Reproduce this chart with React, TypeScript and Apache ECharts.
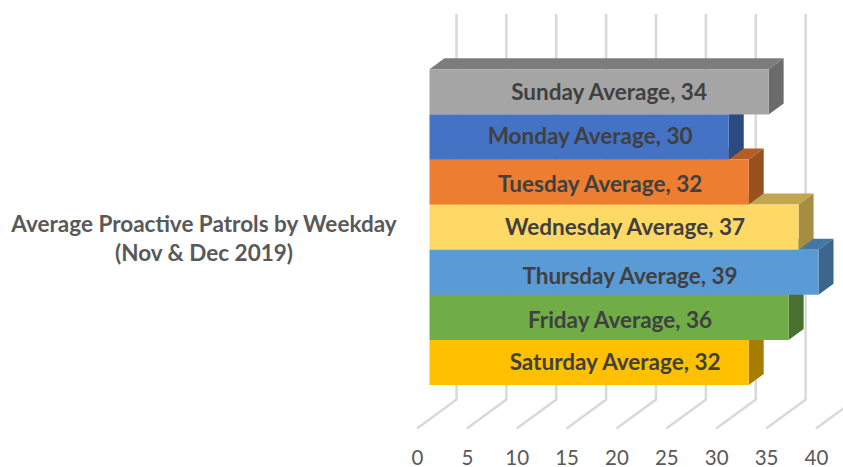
import React, { useEffect, useRef } from "react";
import * as echarts from "echarts";

const days = ["Sunday", "Monday", "Tuesday", "Wednesday", "Thursday", "Friday", "Saturday"];
const averages = [34, 30, 32, 37, 39, 36, 32];
const ticks = [0, 5, 10, 15, 20, 25, 30, 35, 40];
const frontColors = ["#A5A5A5", "#4472C4", "#ED7D31", "#FFD966", "#5B9BD5", "#70AD47", "#FFC000"];
const topColors = ["#7C7C7C", "#335593", "#B25E25", "#C2A64F", "#4477A6", "#548235", "#BF9000"];
const sideColors = ["#6B6B6B", "#2A4A80", "#9A5120", "#A58E42", "#3B658C", "#4A7030", "#A67D00"];
const labelShiftX = [10, 11, 11, 11, 6, 11, 26];
const labelShiftY = [0, -1, 1, -1, 3, 2, -1];
const titleText = "Average Proactive Patrols by Weekday\n(Nov & Dec 2019)";

const FONT = "Lato, sans-serif";
const BAR_SHIFT = 12;
const DEPTH_X = 15;
const DEPTH_Y = 11;

export default function App() {
  const ref = useRef<HTMLDivElement>(null);
  useEffect(() => {
    const chart = echarts.init(ref.current!, null, { renderer: "svg" });
    chart.setOption({
      animation: false,
      backgroundColor: "#FFFFFF",
      title: {
        text: titleText,
        left: 199,
        top: 204,
        textAlign: "center",
        textStyle: { fontFamily: FONT, fontSize: 22.5, fontWeight: "bold", color: "#595959", lineHeight: 29 },
      },
      grid: { left: 417.5, top: 69.3, width: 399, height: 315.7, containLabel: false },
      xAxis: {
        type: "value",
        min: 0,
        max: 40,
        interval: 5,
        axisLine: { show: false },
        axisTick: { show: false },
        splitLine: { show: false },
        axisLabel: { margin: 61, fontFamily: FONT, fontSize: 20.5, color: "#595959", showMaxLabel: true },
      },
      yAxis: {
        type: "category",
        inverse: true,
        data: days,
        show: false,
      },
      series: [
        {
          type: "custom",
          z: 1,
          silent: true,
          data: ticks.map((t) => [t, 0]),
          encode: { x: 0, y: 1 },
          renderItem: (params: any, api: any) => {
            const x = api.coord([api.value(0), 0])[0];
            const bottom = params.coordSys.y + params.coordSys.height;
            return {
              type: "polyline",
              shape: {
                points: [
                  [x - 0.5, bottom + 43.5],
                  [x + 39, bottom + 14.5],
                  [x + 39, bottom - 371],
                ],
              },
              style: { stroke: "#D9D9D9", lineWidth: 2.5, fill: null },
            };
          },
        },
        {
          type: "custom",
          z: 2,
          silent: true,
          data: averages.map((v, i) => [v, i]).reverse(),
          encode: { x: 0, y: 1 },
          renderItem: (_params: any, api: any) => {
            const idx = api.value(1);
            const [xEnd, yMid] = api.coord([api.value(0), idx]);
            const x0 = api.coord([0, idx])[0] + BAR_SHIFT;
            const x1 = xEnd + BAR_SHIFT;
            const band = api.size([0, 1])[1];
            const y0 = yMid - band / 2;
            const y1 = yMid + band / 2;
            return {
              type: "group",
              children: [
                {
                  type: "polygon",
                  shape: { points: [[x0, y0], [x0 + DEPTH_X, y0 - DEPTH_Y], [x1 + DEPTH_X, y0 - DEPTH_Y], [x1, y0]] },
                  style: { fill: topColors[idx] },
                },
                {
                  type: "polygon",
                  shape: { points: [[x1, y0], [x1 + DEPTH_X, y0 - DEPTH_Y], [x1 + DEPTH_X, y1 - DEPTH_Y], [x1, y1]] },
                  style: { fill: sideColors[idx] },
                },
                {
                  type: "rect",
                  shape: { x: x0, y: y0, width: x1 - x0, height: band },
                  style: { fill: frontColors[idx] },
                },
              ],
            };
          },
        },
        {
          type: "custom",
          z: 3,
          silent: true,
          data: averages.map((v, i) => [v, i]),
          encode: { x: 0, y: 1 },
          renderItem: (_params: any, api: any) => {
            const idx = api.value(1);
            const v = api.value(0);
            const [xEnd, yMid] = api.coord([v, idx]);
            const x0 = api.coord([0, idx])[0] + BAR_SHIFT;
            return {
              type: "text",
              style: {
                text: `${days[idx]} Average, ${v}`,
                x: (x0 + xEnd + BAR_SHIFT) / 2 + labelShiftX[idx],
                y: yMid + labelShiftY[idx],
                align: "center",
                verticalAlign: "middle",
                font: `bold 22.5px ${FONT}`,
                fill: "#404040",
              },
            };
          },
        },
      ],
    });
    return () => chart.dispose();
  }, []);
  return <div ref={ref} style={{ position: "absolute", left: 0, top: 0, width: 843, height: 467 }} />;
}
